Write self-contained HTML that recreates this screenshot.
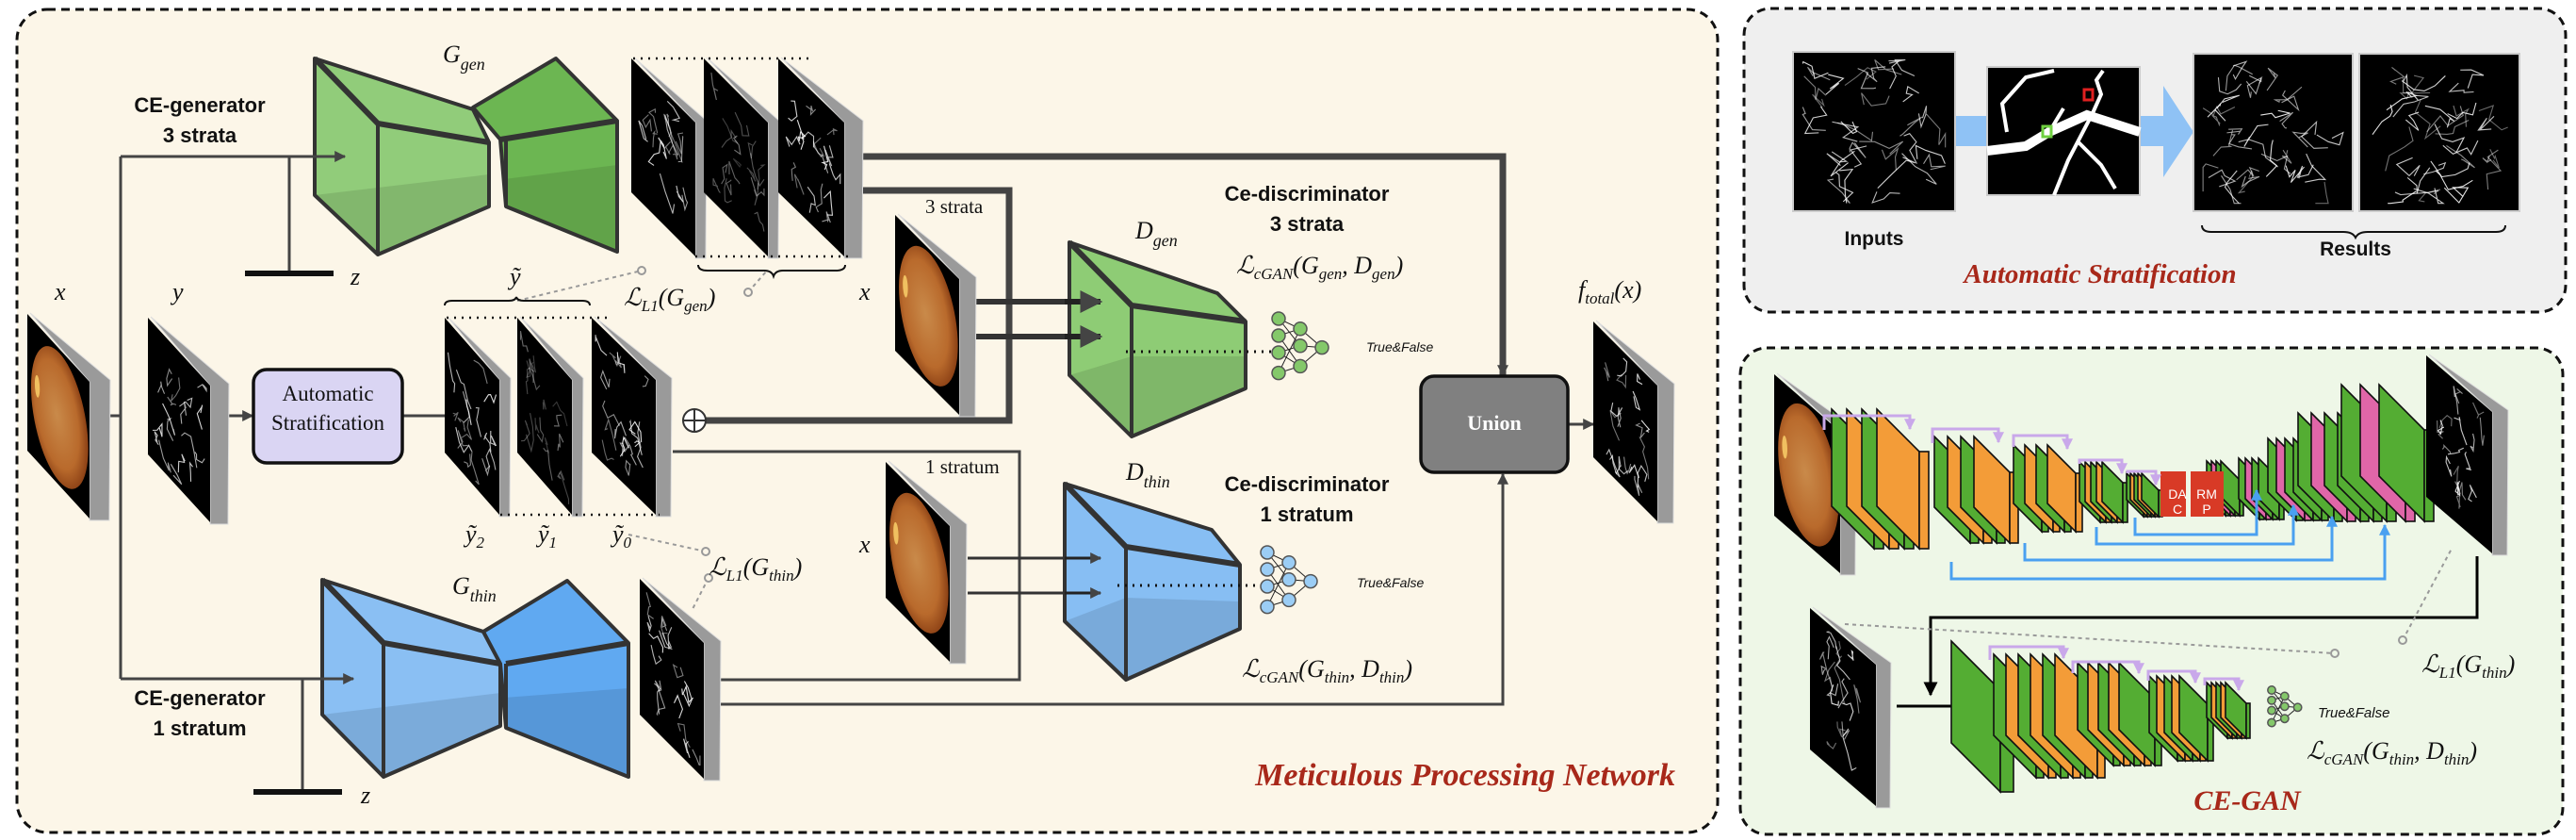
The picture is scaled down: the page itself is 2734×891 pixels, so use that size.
<!DOCTYPE html>
<html><head><meta charset="utf-8"><style>
html,body{margin:0;padding:0;background:#fff}
svg{display:block}
.b{font-family:"Liberation Sans",sans-serif;font-weight:bold}
.m{font-family:"Liberation Serif",serif;font-style:italic}
.s{font-family:"Liberation Serif",serif}
.r{font-family:"Liberation Serif",serif;font-style:italic;font-weight:bold;fill:#a8281a}
</style></head><body>
<svg id="sv" xmlns="http://www.w3.org/2000/svg" width="2734" height="891" viewBox="0 0 2734 891">
<defs>
<radialGradient id="fg" cx="0.45" cy="0.5" r="0.55">
<stop offset="0" stop-color="#c98a4a"/><stop offset="0.7" stop-color="#b96a2c"/><stop offset="1" stop-color="#8a3f14"/>
</radialGradient>
<marker id="ar" viewBox="0 0 10 10" refX="9" refY="5" markerWidth="4" markerHeight="4" orient="auto"><path d="M0,0L10,5L0,10z" fill="#444"/></marker>
<marker id="ab" viewBox="0 0 10 10" refX="9" refY="5" markerWidth="4" markerHeight="4" orient="auto"><path d="M0,0L10,5L0,10z" fill="#4aa0f0"/></marker>
<marker id="ap" viewBox="0 0 10 10" refX="9" refY="5" markerWidth="4" markerHeight="4" orient="auto"><path d="M0,0L10,5L0,10z" fill="#c9a8ea"/></marker>
<marker id="ak" viewBox="0 0 10 10" refX="9" refY="5" markerWidth="5" markerHeight="5" orient="auto"><path d="M0,0L10,5L0,10z" fill="#000"/></marker>
</defs>
<rect x="18" y="10" width="1805" height="873" rx="32" fill="#fcf6e8" stroke="#111" stroke-width="3" stroke-dasharray="9,6"/>
<rect x="1851" y="9" width="872" height="322" rx="28" fill="#efefef" stroke="#111" stroke-width="3" stroke-dasharray="9,6"/>
<rect x="1847" y="369" width="873" height="516" rx="28" fill="#eef7e7" stroke="#111" stroke-width="3" stroke-dasharray="9,6"/>
<g id="g"></g>
<g class="b" font-size="22" text-anchor="middle" fill="#111">
<text x="212" y="119">CE-generator</text><text x="212" y="151">3 strata</text>
<text x="212" y="748">CE-generator</text><text x="212" y="780">1 stratum</text>
<text x="1387" y="213">Ce-discriminator</text><text x="1387" y="245">3 strata</text>
<text x="1387" y="521">Ce-discriminator</text><text x="1387" y="553">1 stratum</text>
</g>
<g class="m" font-size="26" fill="#111">
<text x="58" y="318">x</text><text x="183" y="318">y</text><text x="912" y="318">x</text><text x="912" y="586">x</text>
<text x="372" y="302">z</text><text x="383" y="852">z</text>
<text x="541" y="302">ỹ</text>
<text x="494" y="575">ỹ<tspan font-size="17" dy="6">2</tspan></text>
<text x="571" y="575">ỹ<tspan font-size="17" dy="6">1</tspan></text>
<text x="650" y="575">ỹ<tspan font-size="17" dy="6">0</tspan></text>
<text x="470" y="66">G<tspan font-size="18" dy="8">gen</tspan></text>
<text x="480" y="630">G<tspan font-size="18" dy="8">thin</tspan></text>
<text x="1205" y="253">D<tspan font-size="18" dy="8">gen</tspan></text>
<text x="1195" y="509">D<tspan font-size="18" dy="8">thin</tspan></text>
<text x="1675" y="316">f<tspan font-size="17" dy="6">total</tspan><tspan dy="-6">(x)</tspan></text>
<text x="662" y="324">ℒ<tspan font-size="17" dy="6">L1</tspan><tspan dy="-6">(G</tspan><tspan font-size="17" dy="6">gen</tspan><tspan dy="-6">)</tspan></text>
<text x="752" y="610">ℒ<tspan font-size="17" dy="6">L1</tspan><tspan dy="-6">(G</tspan><tspan font-size="17" dy="6">thin</tspan><tspan dy="-6">)</tspan></text>
<text x="1312" y="290">ℒ<tspan font-size="17" dy="6">cGAN</tspan><tspan dy="-6">(G</tspan><tspan font-size="17" dy="6">gen</tspan><tspan dy="-6">, D</tspan><tspan font-size="17" dy="6">gen</tspan><tspan dy="-6">)</tspan></text>
<text x="1318" y="718">ℒ<tspan font-size="17" dy="6">cGAN</tspan><tspan dy="-6">(G</tspan><tspan font-size="17" dy="6">thin</tspan><tspan dy="-6">, D</tspan><tspan font-size="17" dy="6">thin</tspan><tspan dy="-6">)</tspan></text>
<text x="2570" y="713">ℒ<tspan font-size="17" dy="6">L1</tspan><tspan dy="-6">(G</tspan><tspan font-size="17" dy="6">thin</tspan><tspan dy="-6">)</tspan></text>
<text x="2448" y="805">ℒ<tspan font-size="17" dy="6">cGAN</tspan><tspan dy="-6">(G</tspan><tspan font-size="17" dy="6">thin</tspan><tspan dy="-6">, D</tspan><tspan font-size="17" dy="6">thin</tspan><tspan dy="-6">)</tspan></text>
</g>
<g class="s" font-size="21" fill="#111">
<text x="982" y="226">3 strata</text><text x="982" y="502">1 stratum</text>
</g>
<g font-family="Liberation Sans,sans-serif" font-style="italic" font-size="14" fill="#111">
<text x="1450" y="373">True&amp;False</text><text x="1440" y="623">True&amp;False</text>
</g>
<text x="2460" y="761" font-family="Liberation Sans,sans-serif" font-style="italic" font-size="15" fill="#111">True&amp;False</text>
<text x="1778" y="833" class="r" font-size="34" text-anchor="end">Meticulous Processing Network</text>
<text x="2229" y="300" class="r" font-size="29" text-anchor="middle">Automatic Stratification</text>
<text x="2385" y="859" class="r" font-size="30" text-anchor="middle">CE-GAN</text>
<g class="b" font-size="21" text-anchor="middle" fill="#111"><text x="1989" y="260">Inputs</text><text x="2500" y="271">Results</text></g>
<text x="2311" y="529" font-family="Liberation Sans,sans-serif" font-size="14" fill="#fff" text-anchor="middle">DA</text>
<text x="2311" y="545" font-family="Liberation Sans,sans-serif" font-size="14" fill="#fff" text-anchor="middle">C</text>
<text x="2342" y="529" font-family="Liberation Sans,sans-serif" font-size="14" fill="#fff" text-anchor="middle">RM</text>
<text x="2342" y="545" font-family="Liberation Sans,sans-serif" font-size="14" fill="#fff" text-anchor="middle">P</text>
</svg>
<script>
(function(){
var NS="http://www.w3.org/2000/svg",G=document.getElementById('g');
function el(t,a,p){var e=document.createElementNS(NS,t);for(var k in a)e.setAttribute(k,a[k]);(p||G).appendChild(e);return e;}
var seed=7;function rnd(){seed=(seed*16807)%2147483647;return seed/2147483647;}
function P(pts){return pts.map(function(p){return p[0]+','+p[1]}).join(' ');}
function panel(x0,y0,w,d,h,g,kind){
 el('polygon',{points:P([[x0+3,y0-1],[x0+w+g,y0+d-2],[x0+w+g-1,y0+d+h+2],[x0+w,y0+d+h+2],[x0+w,y0+d]]),fill:'#9a9a9a',stroke:'#ddd','stroke-width':1});
 el('polygon',{points:P([[x0,y0],[x0+w,y0+d],[x0+w,y0+d+h],[x0,y0+h]]),fill:'#000'});
 var gr=el('g',{transform:'matrix('+w+','+d+',0,'+h+','+x0+','+y0+')'});
 if(kind=='f'){el('ellipse',{cx:0.52,cy:0.5,rx:0.46,ry:0.47,fill:'url(#fg)'},gr);el('ellipse',{cx:0.16,cy:0.45,rx:0.04,ry:0.08,fill:'#f0c060'},gr);}
 else vess(gr,kind=='t'?0.5:1);
}
function vess(gr,op){
 for(var i=0;i<18;i++){var x=0.15+rnd()*0.7,y=0.1+rnd()*0.8,s='M'+x+','+y;
  for(var j=0;j<4;j++){x+=(rnd()-0.5)*0.2;y+=(rnd()-0.5)*0.2;x=Math.max(0.06,Math.min(0.94,x));y=Math.max(0.05,Math.min(0.95,y));s+=' L'+x+','+y;}
  el('path',{d:s,fill:'none',stroke:'#fff','stroke-opacity':op*(0.4+rnd()*0.5),'stroke-width':1.1,'vector-effect':'non-scaling-stroke'},gr);}
}
function L(pts,w,c,m,dash){var a={points:P(pts),fill:'none',stroke:c||'#444','stroke-width':w||3};if(m)a['marker-end']='url(#'+m+')';if(dash)a['stroke-dasharray']=dash;return el('polyline',a);}
L([[98,441],[128,441]],3);L([[128,166],[128,720]],3);
L([[307,166],[307,290]],3);L([[260,290],[354,290]],6,'#111');
L([[321,720],[321,840]],3);L([[269,840],[363,840]],6,'#111');
L([[128,166],[340,166]],3);L([[128,720],[345,720]],3);
L([[225,441],[268,441]],3,'#444','ar');L([[427,441],[472,441]],3);
L([[905,166],[1595,166],[1595,398]],7,'#444');L([[1595,390],[1595,398]],3,'#444','ar');
L([[895,202],[1071,202],[1071,446],[737,446]],7,'#444');
L([[1036,320],[1140,320]],6,'#333');L([[1036,357],[1140,357]],6,'#333');
L([[714,479],[1082,479],[1082,721],[765,721]],3);
L([[1027,592],[1140,592]],3,'#333');L([[1027,629],[1140,629]],3,'#333');
L([[765,747],[1595,747],[1595,503]],3,'#444','ar');
L([[1664,450],[1691,450]],3,'#444','ar');
L([[549,319],[681,287]],2,'#999',null,'4,4');L([[794,310],[814,287]],2,'#999',null,'4,4');
L([[667,567],[749,585]],2,'#999',null,'4,4');L([[752,613],[734,648]],2,'#999',null,'4,4');
[[681,287],[794,310],[749,585],[752,613]].forEach(function(c){el('circle',{cx:c[0],cy:c[1],r:4,fill:'#fcf6e8',stroke:'#999','stroke-width':2});});
function block(o,fill,dark,lines){
 el('polygon',{points:P(o),fill:fill,'fill-opacity':0.92});
 if(dark)el('polygon',{points:P(dark),fill:'#000','fill-opacity':0.1});
 el('polygon',{points:P(o),fill:'none',stroke:'#333','stroke-width':4,'stroke-linejoin':'round'});
 lines.forEach(function(l){L(l[0],l[1],'#333');});
}
// G_gen
block([[334,62],[502,116],[519,151],[519,219],[401,270],[334,207]],'#88c870',[[334,207],[401,270],[519,219],[519,185]],[[[[334,62],[401,131],[519,151]],6],[[[401,131],[401,270]],4]]);
block([[502,114],[590,62],[655,128],[655,267],[537,219],[531,148]],'#60b044',[[537,219],[655,267],[655,175],[535,190]],[[[[531,148],[655,128]],6],[[[537,148],[537,219]],4]]);
// G_thin
block([[342,615],[513,670],[531,704],[531,770],[407,824],[342,758]],'#80baf3',[[342,758],[407,824],[531,770],[531,735]],[[[[342,615],[407,682],[531,704]],6],[[[407,682],[407,824]],4]]);
block([[513,670],[602,616],[667,682],[667,824],[537,772],[531,704]],'#52a2f1',[[537,772],[667,824],[667,730],[535,740]],[[[[537,704],[667,682]],6],[[[537,704],[537,772]],4]]);
// D
block([[1135,257],[1292,311],[1322,341],[1322,412],[1201,463],[1135,398]],'#84c86a',[[1135,398],[1201,463],[1322,412],[1322,378],[1201,378]],[[[[1135,257],[1201,324],[1322,341]],6],[[[1201,324],[1201,463]],4]]);
block([[1130,513],[1286,562],[1316,599],[1316,667],[1195,721],[1130,659]],'#7db8f3',[[1130,659],[1195,721],[1316,667],[1316,638],[1195,634]],[[[[1130,513],[1195,580],[1316,599]],6],[[[1195,580],[1195,721]],4]]);
// arrowheads over shapes
L([[330,166],[366,166]],3,'#444','ar');L([[340,720],[375,720]],3,'#444','ar');
L([[1130,320],[1168,320]],6,'#222','ar');L([[1130,357],[1168,357]],6,'#222','ar');
L([[1130,592],[1168,592]],3,'#222','ar');L([[1130,629],[1168,629]],3,'#222','ar');
L([[1195,373],[1357,373]],3,'#111',null,'2,6');L([[1186,621],[1345,621]],3,'#111',null,'2,6');
function net(x,y,c,sc){var A=[[0,0],[0,1],[0,2],[0,3.2],[1,0.6],[1,1.6],[1,2.8],[2,1.7]],pts=A.map(function(a){return [x+a[0]*23*sc,y+a[1]*18*sc]});
 [[0,4],[0,5],[1,4],[1,6],[2,5],[2,6],[3,6],[3,4],[4,7],[5,7],[6,7]].forEach(function(e){L([pts[e[0]],pts[e[1]]],1,'#222');});
 pts.forEach(function(p){el('circle',{cx:p[0],cy:p[1],r:7*sc,fill:c,stroke:'#555','stroke-width':1.5});});}
net(1357,338,'#84c86a',1);net(1345,586,'#9bcdf5',1);net(2411,732,'#84c86a',0.6);
panel(29,333,66,72,145,22,'f');
panel(157,337,66,72,145,20,'v');
panel(472,337,58,66,143,12,'v');panel(549,337,58,66,143,12,'t');panel(628,337,68,66,143,17,'v');
panel(670,62,68,68,142,12,'v');panel(747,62,68,68,142,12,'t');panel(826,62,70,68,142,20,'v');
panel(950,228,68,68,144,18,'f');panel(940,490,68,68,144,18,'f');
panel(679,614,68,68,144,18,'v');panel(1691,341,68,68,144,18,'v');
L([[672,62],[860,62]],2.5,'#111',null,'2,6');L([[738,272],[900,272]],2.5,'#111',null,'2,6');
L([[474,337],[650,337]],2.5,'#111',null,'2,6');L([[531,546],[700,546]],2.5,'#111',null,'2,6');
el('path',{d:'M741,281 q0,6 10,6 h60 q8,0 10,6 q2,-6 10,-6 h56 q10,0 10,-6',fill:'none',stroke:'#111','stroke-width':2});
el('path',{d:'M472,324 q0,-5 8,-5 h60 q7,0 8,-4 q1,4 8,4 h62 q8,0 8,5',fill:'none',stroke:'#111','stroke-width':2});
el('circle',{cx:737,cy:446,r:12,fill:'#fff',stroke:'#333','stroke-width':2});L([[725,446],[749,446]],2,'#333');L([[737,434],[737,458]],2,'#333');
el('rect',{x:269,y:392,width:158,height:99,rx:14,fill:'#dad5f3',stroke:'#111','stroke-width':3.5});
el('rect',{x:1508,y:399,width:156,height:102,rx:14,fill:'#808080',stroke:'#111','stroke-width':3.5});
function sq(x,y,w,h){el('rect',{x:x,y:y,width:w,height:h,fill:'#000',stroke:'#ccc','stroke-width':2});var g=el('g',{transform:'matrix('+w+',0,0,'+h+','+x+','+y+')'});vess(g,1);vess(g,1);}
el('rect',{x:2075,y:123,width:36,height:32,fill:'#8fc2f5'});
el('polygon',{points:'2270,123 2296,123 2296,91 2328,140 2296,188 2296,155 2270,155',fill:'#8fc2f5'});
sq(1903,55,172,169);
el('rect',{x:2109,y:71,width:162,height:136,fill:'#000',stroke:'#ccc','stroke-width':2});
el('path',{d:'M2109,160 L2150,155 L2175,140 L2215,122 L2240,130 L2271,140',fill:'none',stroke:'#fff','stroke-width':10});
el('path',{d:'M2130,140 L2125,110 L2150,82 L2180,75 M2220,122 L2195,170 L2180,207 M2205,150 L2230,175 L2245,200 M2221,120 L2230,100 L2225,85 L2232,75 M2175,140 L2190,115',fill:'none',stroke:'#fff','stroke-width':4});
el('rect',{x:2168,y:134,width:9,height:11,fill:'none',stroke:'#6fd040','stroke-width':3});
el('rect',{x:2212,y:95,width:9,height:11,fill:'none',stroke:'#e02020','stroke-width':3});
sq(2328,57,169,167);sq(2504,57,170,167);
el('path',{d:'M2337,239 q0,7 10,7 h140 q10,0 13,6 q3,-6 13,-6 h136 q10,0 10,-7',fill:'none',stroke:'#111','stroke-width':2});
panel(1883,397,70,61,150,17,'f');
function plate(x,y,h,D,t,c){el('polygon',{points:P([[x,y],[x+D,y+D],[x+D,y+D+h],[x,y+h]]),fill:c,stroke:'#111','stroke-width':1.6});
 el('rect',{x:x+D,y:y+D,width:t,height:h,fill:c,stroke:'#111','stroke-width':1.6});}
var GR='#54ad33',OR='#f39c38',PK='#e066a8';
function grp(x,y,h,D,sp,cols,t){cols.forEach(function(c,i){plate(x+i*sp,y,h,D,t,c);});}
grp(1944,434,103,45,16,[GR,OR,GR,OR],10);
grp(2053,463,75,38,14,[GR,OR,GR,OR],9);
grp(2137,472,62,30,12,[GR,OR,GR,OR],7);
grp(2207,490,42,22,6,[GR,OR,GR,OR,GR],5);
grp(2257,502,28,18,4,[GR,OR,GR,OR,GR],4);
grp(2342,489,38,20,5,[GR,PK,GR,GR],4);
grp(2376,486,43,22,7,[GR,PK,GR,GR],5);
grp(2407,465,57,30,9,[GR,PK,GR,GR],7);
grp(2439,438,77,38,14,[GR,PK,GR,GR],9);
grp(2485,408,97,48,20,[GR,PK,GR],10);
el('rect',{x:2293,y:500,width:27,height:48,fill:'#d83a26'});el('rect',{x:2325,y:500,width:35,height:48,fill:'#d83a26'});
panel(2575,377,70,60,150,17,'v');
[[1936,441,2027,456],[2051,455,2121,470],[2137,462,2194,474],[2207,488,2252,492],[2258,500,2288,502]].forEach(function(a){L([[a[0],a[3]],[a[0],a[1]],[a[2],a[1]],[a[2],a[1]+14]],3,'#c9a8ea','ap');});
[[2266,567,2395,520],[2225,577,2434,536],[2149,594,2475,548],[2071,614,2531,557]].forEach(function(a){L([[a[0],a[1]-18],[a[0],a[1]],[a[2],a[1]],[a[2],a[3]]],3,'#4aa0f0','ab');});
L([[2629,590],[2629,655],[2049,655],[2049,737]],3,'#000','ak');
panel(1921,645,70,60,150,16,'v');
L([[2013,749],[2100,749]],3,'#000','ak');
plate(2071,680,108,52,14,GR);
grp(2116,694,86,45,13,[GR,OR,GR,OR,GR,OR],8);
grp(2205,703,71,38,11,[GR,OR,GR,OR,GR],7);
grp(2281,717,60,30,8,[GR,OR,GR,OR,GR],6);
grp(2342,724,37,22,5,[GR,OR,GR,OR,GR],4);
[[2112,686,2190,700],[2200,702,2270,714],[2280,712,2330,722],[2340,720,2376,727]].forEach(function(a){L([[a[0],a[3]],[a[0],a[1]],[a[2],a[1]],[a[2],a[1]+12]],3,'#c9a8ea','ap');});
L([[1958,662],[2478,693]],2,'#999',null,'4,4');L([[2550,679],[2602,582]],2,'#999',null,'4,4');
el('circle',{cx:2478,cy:693,r:4,fill:'#eef7e7',stroke:'#999','stroke-width':2});el('circle',{cx:2550,cy:679,r:4,fill:'#eef7e7',stroke:'#999','stroke-width':2});
})();
</script>
<div style="position:absolute;left:0;top:0;width:2734px;height:891px;pointer-events:none">
<div class="s" style="position:absolute;left:269px;top:402px;width:158px;text-align:center;font-size:23px;line-height:31px;color:#111">Automatic<br>Stratification</div>
<div class="s" style="position:absolute;left:1508px;top:436px;width:156px;text-align:center;font-size:22px;font-weight:bold;color:#fff">Union</div>
</div>
</body></html>
